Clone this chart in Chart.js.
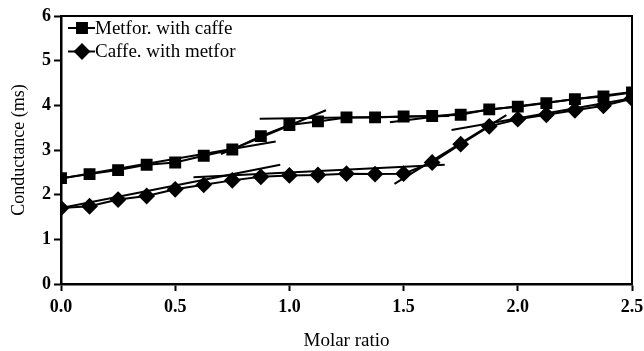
<!DOCTYPE html>
<html>
<head>
<meta charset="utf-8">
<script src="https://cdn.jsdelivr.net/npm/chart.js@4.4.1/dist/chart.umd.min.js"></script>
<style>
html, body { margin: 0; padding: 0; background: #fff; }
</style>
</head>
<body>
<canvas id="cond" width="644" height="351"></canvas>
<script>
// molar ratio (x) and conductance in mS (y)
const molarRatio = [0, 0.125, 0.25, 0.375, 0.5, 0.625, 0.75, 0.875, 1.0, 1.125, 1.25,
    1.375, 1.5, 1.625, 1.75, 1.875, 2.0, 2.125, 2.25, 2.375, 2.5];
const metforWithCaffe = [2.37, 2.46, 2.55, 2.67, 2.72, 2.87, 3.01, 3.31, 3.56, 3.64, 3.73,
    3.73, 3.75, 3.76, 3.79, 3.91, 3.97, 4.05, 4.14, 4.20, 4.29];
const caffeWithMetfor = [1.70, 1.74, 1.89, 1.97, 2.12, 2.22, 2.32, 2.40, 2.43, 2.44, 2.47,
    2.46, 2.47, 2.72, 3.13, 3.53, 3.69, 3.79, 3.89, 3.99, 4.15];

// fitted segments, [x0, y0, x1, y1]
const metforFits = [[0, 2.36, 0.94, 3.19], [0.70, 2.91, 1.16, 3.89],
    [0.87, 3.70, 1.70, 3.76], [1.44, 3.62, 2.5, 4.30]];
const caffeFits = [[0, 1.70, 0.96, 2.67], [0.58, 2.39, 1.68, 2.67],
    [1.46, 2.24, 1.95, 3.78], [1.71, 3.45, 2.5, 4.16]];

const xTicks = [0, 0.5, 1.0, 1.5, 2.0, 2.5];
const yTicks = [0, 1, 2, 3, 4, 5, 6];

const serif = "'Liberation Serif', 'Times New Roman', serif";

function toPoints(ys) {
    return molarRatio.map((x, i) => ({ x: x, y: ys[i] }));
}

function fitSets(fits) {
    return fits.map(f => ({
        data: [{ x: f[0], y: f[1] }, { x: f[2], y: f[3] }],
        borderColor: '#000',
        borderWidth: 2,
        pointRadius: 0,
        showLine: true,
        fill: false,
        legendHide: true
    }));
}

const datasets = [
    {
        label: 'Metfor. with caffe',
        data: toPoints(metforWithCaffe),
        borderColor: '#000',
        backgroundColor: '#000',
        borderWidth: 2,
        pointStyle: 'rect',
        pointRadius: 7,
        showLine: true
    },
    {
        label: 'Caffe. with metfor',
        data: toPoints(caffeWithMetfor),
        borderColor: '#000',
        backgroundColor: '#000',
        borderWidth: 2,
        pointStyle: 'rectRot',
        pointRadius: 7,
        showLine: true
    }
].concat(fitSets(metforFits), fitSets(caffeFits));

// box lines on top and right
const frame = {
    id: 'frame',
    afterDraw(chart) {
        const a = chart.chartArea;
        const c = chart.ctx;
        c.save();
        c.strokeStyle = '#000';
        c.lineWidth = 2;
        c.beginPath();
        c.moveTo(a.left, a.top);
        c.lineTo(a.right, a.top);
        c.lineTo(a.right, a.bottom);
        c.stroke();
        c.restore();
    }
};

// legend in the top-left corner of the plot
const insideLegend = {
    id: 'insideLegend',
    afterDraw(chart) {
        const a = chart.chartArea;
        const c = chart.ctx;
        c.save();
        c.font = '19px ' + serif;
        c.textBaseline = 'middle';
        c.fillStyle = '#000';
        c.strokeStyle = '#000';
        chart.data.datasets.filter(d => !d.legendHide).forEach((d, i) => {
            const y = a.top + 12 + i * 23.5;
            const x0 = a.left + 7;
            c.lineWidth = 2;
            c.beginPath();
            c.moveTo(x0, y);
            c.lineTo(x0 + 27, y);
            c.stroke();
            Chart.helpers.drawPoint(c, {
                pointStyle: d.pointStyle,
                radius: 7,
                borderWidth: 1,
                rotation: 0
            }, x0 + 14, y);
            c.fill();
            c.fillText(d.label, x0 + 27, y + 1);
        });
        c.restore();
    }
};

new Chart(document.getElementById('cond'), {
    type: 'scatter',
    data: { datasets: datasets },
    plugins: [frame, insideLegend],
    options: {
        responsive: false,
        animation: false,
        layout: { padding: { left: 0, right: 12, top: 16, bottom: 0 } },
        plugins: {
            legend: { display: false },
            tooltip: { enabled: false }
        },
        scales: {
            x: {
                type: 'linear',
                min: 0,
                max: 2.5,
                afterBuildTicks: s => { s.ticks = xTicks.map(v => ({ value: v })); },
                afterFit: s => {
                    s.height = 67;
                    s.paddingLeft = 0;
                    s.paddingRight = 0;
                },
                ticks: {
                    color: '#000',
                    padding: 6,
                    maxRotation: 0,
                    font: { family: serif, size: 18, weight: 'bold' },
                    callback: v => v.toFixed(1)
                },
                grid: { drawOnChartArea: false, tickLength: 7, tickColor: '#000', tickWidth: 2 },
                border: { display: true, color: '#000', width: 2.5 },
                title: {
                    display: true,
                    text: 'Molar ratio',
                    color: '#000',
                    font: { family: serif, size: 19, lineHeight: 1 },
                    padding: { top: 0, bottom: 0 }
                }
            },
            y: {
                min: 0,
                max: 6,
                afterBuildTicks: s => { s.ticks = yTicks.map(v => ({ value: v })); },
                afterFit: s => { s.width = 61; },
                ticks: {
                    color: '#000',
                    padding: 3,
                    font: { family: serif, size: 18, weight: 'bold' }
                },
                grid: { drawOnChartArea: false, tickLength: 7, tickColor: '#000', tickWidth: 2 },
                border: { display: true, color: '#000', width: 2.5 },
                title: {
                    display: true,
                    text: 'Conductance (ms)',
                    color: '#000',
                    font: { family: serif, size: 18, lineHeight: 1 },
                    padding: { top: 10, bottom: 0 }
                }
            }
        }
    }
});
</script>
</body>
</html>
